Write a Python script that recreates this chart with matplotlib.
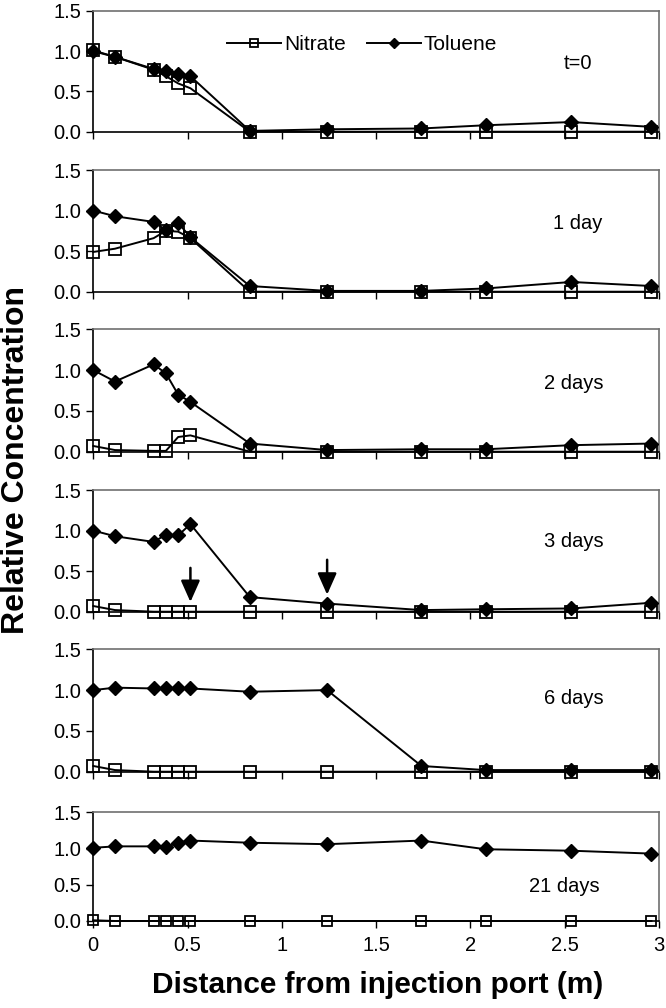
import matplotlib.pyplot as plt

# distance of sampling ports from the injection port (m)
distance = [0, 0.115, 0.32, 0.385, 0.45, 0.515, 0.83, 1.24, 1.74, 2.08, 2.535, 2.96]

panel_labels = ["t=0", "1 day", "2 days", "3 days", "6 days", "21 days"]

nitrate = [
    [1.01, 0.93, 0.77, 0.69, 0.60, 0.54, 0.0, 0.0, 0.0, 0.0, 0.0, 0.0],
    [0.49, 0.53, 0.66, 0.75, 0.74, 0.66, 0.0, 0.0, 0.0, 0.0, 0.0, 0.0],
    [0.07, 0.02, 0.01, 0.01, 0.18, 0.20, 0.0, 0.0, 0.0, 0.0, 0.0, 0.0],
    [0.07, 0.02, 0.0, 0.0, 0.0, 0.0, 0.0, 0.0, 0.0, 0.0, 0.0, 0.0],
    [0.07, 0.02, 0.0, 0.0, 0.0, 0.0, 0.0, 0.0, 0.0, 0.0, 0.0, 0.0],
    [0.01, 0.0, 0.0, 0.0, 0.0, 0.0, 0.0, 0.0, 0.0, 0.0, 0.0, 0.0],
]
toluene = [
    [1.0, 0.93, 0.78, 0.75, 0.72, 0.69, 0.01, 0.03, 0.04, 0.08, 0.12, 0.06],
    [1.0, 0.93, 0.86, 0.76, 0.85, 0.67, 0.07, 0.01, 0.01, 0.04, 0.12, 0.07],
    [1.0, 0.86, 1.07, 0.96, 0.70, 0.61, 0.10, 0.02, 0.03, 0.03, 0.08, 0.10],
    [1.0, 0.93, 0.86, 0.95, 0.94, 1.08, 0.18, 0.10, 0.02, 0.03, 0.04, 0.11],
    [1.0, 1.03, 1.02, 1.03, 1.02, 1.02, 0.98, 1.0, 0.07, 0.02, 0.02, 0.02],
    [1.01, 1.03, 1.03, 1.02, 1.08, 1.11, 1.08, 1.06, 1.11, 0.99, 0.97, 0.93],
]

# arrows in the 3-day panel: (x, y_start, y_end)
arrows_3d = [(0.515, 0.54, 0.12), (1.24, 0.64, 0.21)]

label_pos = [(2.57, 0.85), (2.57, 0.84), (2.55, 0.83), (2.55, 0.86), (2.55, 0.90), (2.50, 0.47)]

plt.rcParams.update({
    "font.family": ["Liberation Sans", "DejaVu Sans"],
    "font.size": 14.5,
})

W, H = 666, 1008
fig = plt.figure(figsize=(W / 100, H / 100), dpi=100)

# panel extents in pixels (top, bottom)
panels_px = [(11, 131.7), (170, 291.7), (329.3, 451.7), (490, 611.7), (649.3, 771.7), (812.3, 921)]
left_px, right_px = 93.3, 659

axes = []
for i, (top, bot) in enumerate(panels_px):
    ax = fig.add_axes([left_px / W, 1 - bot / H, (right_px - left_px) / W, (bot - top) / H])
    axes.append(ax)
    ms_sq = 8 if i < 5 else 7
    ax.plot(distance, nitrate[i], color="black", lw=1.4, marker="s", ms=ms_sq,
            mfc="none", mec="black", mew=1.3, label="Nitrate", zorder=3, clip_on=False)
    ax.plot(distance, toluene[i], color="black", lw=1.4, marker="D", ms=7,
            mfc="black", mec="black", label="Toluene", zorder=4, clip_on=False)
    ax.set_xlim(0, 3)
    ax.set_ylim(0, 1.5)
    ax.set_yticks([0, 0.5, 1.0, 1.5])
    ax.set_yticklabels(["0.0", "0.5", "1.0", "1.5"])
    ax.set_xticks([0, 0.5, 1, 1.5, 2, 2.5, 3])
    ax.tick_params(direction="out", length=5, width=1, colors="black", labelsize=14.5)
    ax.tick_params(axis="x", pad=6)
    if i < len(panels_px) - 1:
        ax.tick_params(axis="x", labelbottom=False)
    else:
        ax.set_xticklabels(["0", "0.5", "1", "1.5", "2", "2.5", "3"])
    for side in ("top", "right"):
        ax.spines[side].set_color("#707070")
        ax.spines[side].set_linewidth(1.2)
    for side in ("left", "bottom"):
        ax.spines[side].set_color("black")
        ax.spines[side].set_linewidth(1.2)
    ax.text(label_pos[i][0], label_pos[i][1], panel_labels[i], ha="center", va="center",
            fontsize=14.5)

axes[0].legend(loc="center", bbox_to_anchor=(0.475, 0.72), ncol=2, frameon=False,
               handlelength=2.6, columnspacing=1.0, handletextpad=0.15, fontsize=15,
               markerscale=0.75)

for x, y0, y1 in arrows_3d:
    axes[3].annotate("", xy=(x, y1), xytext=(x, y0),
                     arrowprops=dict(arrowstyle="-|>,head_width=0.4,head_length=0.9",
                                     color="black", lw=1.8, shrinkA=0, shrinkB=0))

fig.text(16 / W, 1 - 460 / H, "Relative Concentration", rotation=90, ha="center", va="center",
         fontsize=23, fontweight="bold")
fig.text((left_px + 2 + right_px) / 2 / W, 1 - 985 / H, "Distance from injection port (m)",
         ha="center", va="center", fontsize=21.5, fontweight="bold")

fig.savefig("out.png", dpi=100, facecolor="white")
